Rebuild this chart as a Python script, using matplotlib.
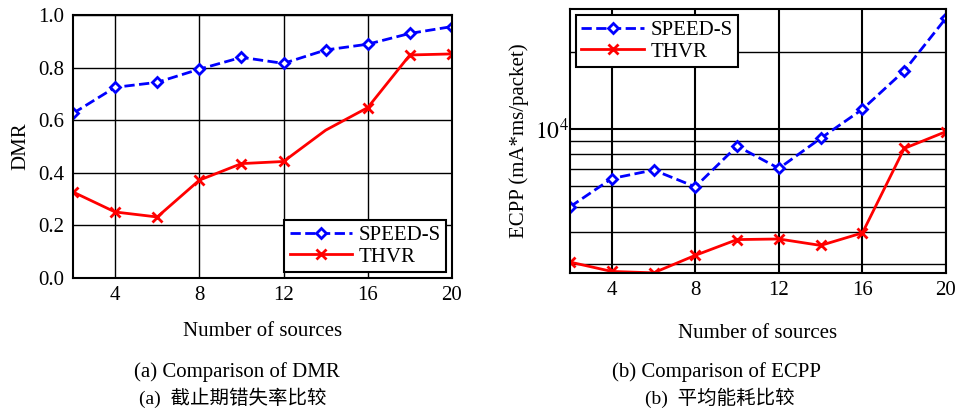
import numpy as np
import matplotlib.pyplot as plt
from matplotlib.ticker import FixedLocator, LogLocator, NullFormatter, FixedFormatter

plt.rcParams["font.family"] = ["Liberation Serif", "Noto Sans CJK SC"]
plt.rcParams["mathtext.fontset"] = "stix"

sources = [2, 4, 6, 8, 10, 12, 14, 16, 18, 20]
dmr_speed = [0.626, 0.725, 0.744, 0.794, 0.839, 0.816, 0.867, 0.889, 0.93, 0.956]
dmr_thvr = [0.327, 0.251, 0.232, 0.372, 0.435, 0.443, 0.562, 0.648, 0.848, 0.852]
ecpp_speed = [5000, 6440, 6950, 5980, 8610, 7050, 9230, 11970, 16880, 27060]
ecpp_thvr = [3050, 2805, 2770, 3240, 3730, 3750, 3540, 3960, 8430, 9800]
x_ticks = [4, 8, 12, 16, 20]

W, H = 957, 412
fig = plt.figure(figsize=(W / 100, H / 100), dpi=100)
ax1 = fig.add_axes([73 / W, 1 - 278 / H, (452 - 73) / W, (278 - 15) / H])
ax2 = fig.add_axes([570 / W, 1 - 273 / H, (946 - 570) / W, (273 - 9) / H])

fs = 15
speed_style = dict(color="#0000ff", ls="--", lw=2.0, marker="D", ms=5.5,
                   mfc="white", mec="#0000ff", mew=2.0, label="SPEED-S")
thvr_style = dict(color="#ff0000", ls="-", lw=2.0, marker="x", ms=6.5,
                  mew=2.0, label="THVR")

# (a) DMR
ax1.plot(sources, dmr_speed, **speed_style)
ax1.plot(sources, dmr_thvr, markevery=[0, 1, 2, 3, 4, 5, 7, 8, 9], **thvr_style)
ax1.set_xlim(2, 20)
ax1.set_ylim(0, 1.0)
ax1.set_xticks(x_ticks)
ax1.set_yticks(np.arange(0, 1.01, 0.2))
ax1.yaxis.set_major_formatter(FixedFormatter(["0.0", "0.2", "0.4", "0.6", "0.8", "1.0"]))
ax1.grid(True, color="black", lw=1.0)
ax1.set_ylabel("DMR", fontsize=fs, labelpad=6)
ax1.set_xlabel("Number of sources", fontsize=fs, labelpad=12)
leg1 = ax1.legend(loc="lower right", fontsize=fs, fancybox=False, edgecolor="black",
                  framealpha=1, borderpad=0.25, handlelength=3.0, handletextpad=0.3,
                  labelspacing=0.1, borderaxespad=0.3)
leg1.get_frame().set_linewidth(1.5)

# (b) ECPP
ax2.plot(sources, ecpp_speed, **speed_style)
ax2.plot(sources, ecpp_thvr, **thvr_style)
ax2.set_yscale("log")
ax2.set_xlim(2, 20)
ax2.set_ylim(2766, 29350)
ax2.set_xticks(x_ticks)
ax2.yaxis.set_major_locator(FixedLocator([1e4]))
ax2.yaxis.set_major_formatter(FixedFormatter([r"$10^4$"]))
ax2.yaxis.set_minor_locator(LogLocator(base=10, subs=np.arange(2, 10)))
ax2.yaxis.set_minor_formatter(NullFormatter())
ax2.grid(True, which="major", color="black", lw=1.5)
ax2.grid(True, which="minor", axis="y", color="black", lw=1.0)
ax2.set_ylabel("ECPP (mA*ms/packet)", fontsize=fs, labelpad=4)
ax2.set_xlabel("Number of sources", fontsize=fs, labelpad=17)
leg2 = ax2.legend(loc="upper left", fontsize=fs, fancybox=False, edgecolor="black",
                  framealpha=1, borderpad=0.25, handlelength=3.0, handletextpad=0.3,
                  labelspacing=0.1, borderaxespad=0.3)
leg2.get_frame().set_linewidth(1.5)

for ax in (ax1, ax2):
    ax.tick_params(axis="both", which="both", direction="in", labelsize=fs,
                   length=0, pad=6)
    for s in ax.spines.values():
        s.set_linewidth(1.5)
    ax.set_axisbelow(True)
ax2.tick_params(axis="y", which="major", labelsize=17, pad=1)

fig.text(237 / W, 1 - 372 / H, "(a) Comparison of DMR", fontsize=fs, ha="center", va="center")
fig.text(233 / W, 1 - 398 / H, "(a)  截止期错失率比较", fontsize=fs - 1, ha="center", va="center")
fig.text(717 / W, 1 - 372 / H, "(b) Comparison of ECPP", fontsize=fs, ha="center", va="center")
fig.text(720 / W, 1 - 398 / H, "(b)  平均能耗比较", fontsize=fs - 1, ha="center", va="center")

fig.savefig("out.png", dpi=100)
